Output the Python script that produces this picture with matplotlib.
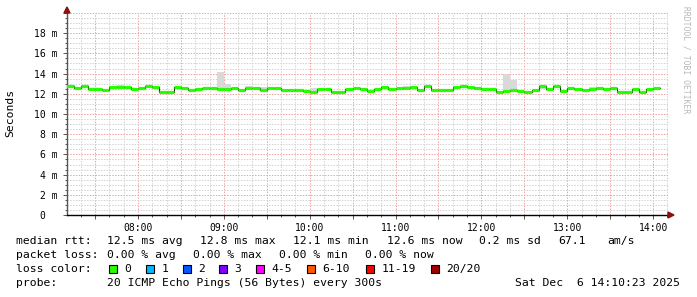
import matplotlib
matplotlib.use('Agg')
import matplotlib.pyplot as plt
from matplotlib.ticker import MultipleLocator, FuncFormatter
from matplotlib.patches import Rectangle, Polygon

W, H = 697, 297
MONO = 'DejaVu Sans Mono'

# time axis in hours; 5 minute steps starting 07:10
t_first = 7 + 10 / 60
step_h = 5 / 60
x_start = 7 + 10 / 60 + 23 / 3600
x_end = 14 + 10 / 60 + 23 / 3600

# median rtt per 5-min step (ms)
median_ms = [12.75, 12.55, 12.75, 12.45, 12.5, 12.4, 12.7, 12.65, 12.7, 12.45,
             12.55, 12.8, 12.7, 12.15, 12.15, 12.7, 12.55, 12.35, 12.45, 12.6,
             12.55,
             12.5, 12.5, 12.6, 12.35, 12.6, 12.55, 12.35, 12.55, 12.55, 12.4,
             12.4, 12.4, 12.25, 12.2, 12.45, 12.45, 12.2, 12.2, 12.45, 12.6,
             12.45, 12.3,
             12.45, 12.7, 12.45, 12.55, 12.6, 12.7, 12.35, 12.75, 12.4, 12.4,
             12.4, 12.7, 12.75, 12.65, 12.55, 12.45, 12.5, 12.2, 12.3, 12.4,
             12.25, 12.2,
             12.4, 12.75, 12.45, 12.8, 12.3, 12.55, 12.45, 12.4, 12.5, 12.55,
             12.5, 12.55, 12.15, 12.2, 12.45, 12.2, 12.45, 12.6]

# smoke (ping spread) where it shows beside the median line
smoke_idx = [7, 21, 22, 25, 27, 28, 34, 35, 47, 61, 62, 66, 73, 74]
smoke_top = [12.85, 14.15, 13.0, 12.75, 12.7, 12.7, 12.6, 12.6, 12.75, 14.0,
             13.35, 12.9, 12.65, 12.65]
smoke_bot = [12.55, 12.4, 12.4, 12.45, 12.4, 12.4, 12.3, 12.3, 12.5, 12.2,
             12.3, 12.5, 12.45, 12.45]

loss_labels = ['0', '1', '2', '3', '4-5', '6-10', '11-19', '20/20']
loss_colors = ['#26ff00', '#00b8ff', '#0059ff', '#7e00ff', '#ff00ff',
               '#ff5500', '#ff0000', '#a10000']


def fx(px):
    return px / W


def fy(py):
    return 1 - py / H


fig = plt.figure(figsize=(W / 100, H / 100), dpi=100)
ax = fig.add_axes([fx(67), fy(215), fx(668) - fx(67), fy(13) - fy(215)])

starts = [t_first + i * step_h for i in range(len(median_ms))]
ends = [s + step_h for s in starts]

# smoke
ax.bar([starts[i] for i in smoke_idx],
       [t - b for t, b in zip(smoke_top, smoke_bot)],
       bottom=smoke_bot, width=step_h, align='edge',
       color='#d9d9d9', linewidth=0, zorder=2)

# median line: thin dark steps, thick green segments
ax.step(starts + [ends[-1]], median_ms + [median_ms[-1]], where='post',
        color='#222222', lw=0.8, zorder=3)
ax.hlines(median_ms, starts, ends, color=loss_colors[0], lw=2.3, zorder=4)

ax.set_xlim(x_start, x_end)
ax.set_ylim(0, 20)

# grid
ax.xaxis.set_major_locator(MultipleLocator(0.5))
ax.xaxis.set_minor_locator(MultipleLocator(1 / 6))
ax.yaxis.set_major_locator(MultipleLocator(2))
ax.yaxis.set_minor_locator(MultipleLocator(0.5))
ax.grid(which='minor', color='#d2d2d2', lw=0.72, ls=(0, (1.4, 1.4)), zorder=0)
ax.grid(which='major', color='#f2a0a0', lw=0.72, ls=(0, (1.4, 1.4)), zorder=1)
ax.set_axisbelow(True)


def xfmt(v, pos):
    if abs(v - round(v)) < 1e-6:
        return '%02d:00' % round(v)
    return ''


def yfmt(v, pos):
    if abs(v) < 1e-9:
        return '0  '
    if v > 19:
        return ''
    return '%d m' % round(v)


ax.xaxis.set_major_formatter(FuncFormatter(xfmt))
ax.yaxis.set_major_formatter(FuncFormatter(yfmt))
for lab in ax.get_xticklabels() + ax.get_yticklabels():
    lab.set_fontfamily(MONO)
ax.tick_params(axis='both', which='major', labelsize=7, length=3,
               width=0.7, color='#555555', pad=3)
ax.tick_params(axis='both', which='minor', length=1.5, width=0.7,
               color='#555555')
ax.tick_params(axis='y', pad=4)

for s in ['top', 'right']:
    ax.spines[s].set_visible(False)
ax.spines['left'].set_color('#555555')
ax.spines['left'].set_linewidth(1.0)
ax.spines['bottom'].set_color('black')
ax.spines['bottom'].set_linewidth(1.0)

# axis arrows
fig.add_artist(Polygon([(fx(64), fy(13)), (fx(70), fy(13)), (fx(67), fy(7))],
                       closed=True, color='#8b1010', transform=fig.transFigure))
fig.add_artist(Polygon([(fx(668), fy(212)), (fx(668), fy(218)), (fx(674), fy(215))],
                       closed=True, color='#8b1010', transform=fig.transFigure))

# y label and watermark
fig.text(fx(10), fy(113), 'Seconds', rotation=90, ha='center', va='center',
         family=MONO, fontsize=8.2)
fig.text(fx(686), fy(6), 'RRDTOOL / TOBI OETIKER', rotation=-90, ha='center',
         va='top', family=MONO, fontsize=5.8, color='#b8b8b8')

# legend block
fs = 8.2


def put(px, py, s, ha='left'):
    fig.text(fx(px), fy(py), s, ha=ha, va='center', family=MONO, fontsize=fs)


put(16, 241, 'median rtt:')
put(107, 241, '12.5 ms avg')
put(200, 241, '12.8 ms max')
put(293, 241, '12.1 ms min')
put(386.5, 241, '12.6 ms now')
put(479, 241, '0.2 ms sd')
put(558, 241, '67.1')
put(607, 241, 'am/s')

put(16, 255, 'packet loss:')
put(107, 255, '0.00 % avg')
put(193, 255, '0.00 % max')
put(279, 255, '0.00 % min')
put(365, 255, '0.00 % now')

put(16, 269, 'loss color:')
sq_x = [109, 146, 183, 219, 256, 307, 366, 431]
for px, lab, col in zip(sq_x, loss_labels, loss_colors):
    fig.add_artist(Rectangle((fx(px), fy(273)), 8 / W, 8 / H, facecolor=col,
                             edgecolor='black', lw=0.8, transform=fig.transFigure))
    put(px + 15.5, 269, lab)

put(16, 283, 'probe:')
put(107, 283, '20 ICMP Echo Pings (56 Bytes) every 300s')
put(680, 283, 'Sat Dec  6 14:10:23 2025', ha='right')

fig.savefig('out.png', dpi=100)
